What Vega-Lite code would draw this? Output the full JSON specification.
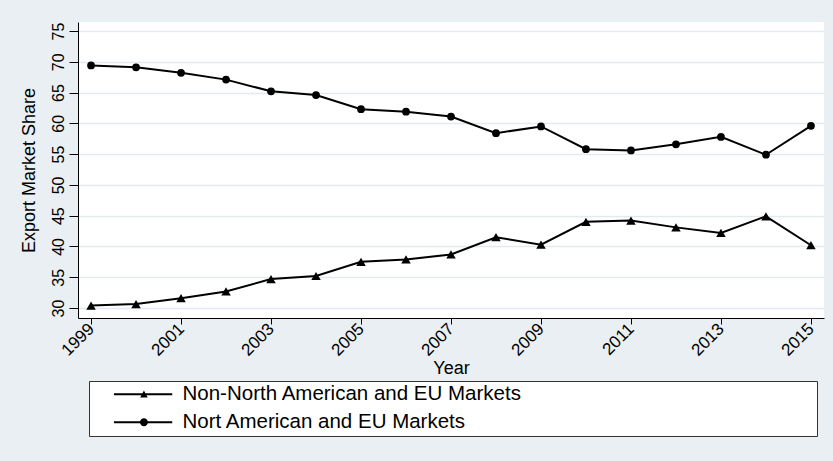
{
  "$schema": "https://vega.github.io/schema/vega-lite/v6.json",
  "width": 746,
  "height": 296,
  "autosize": {"type": "none"},
  "padding": {"left": 78, "top": 22, "right": 9, "bottom": 143},
  "background": "#e9eff2",
  "config": {
    "view": {"fill": "white", "stroke": null},
    "font": "Liberation Sans"
  },
  "data": {
    "values": [
      {"Year": 1999, "Share": 69.4, "Series": "Nort American and EU Markets"},
      {"Year": 2000, "Share": 69.1, "Series": "Nort American and EU Markets"},
      {"Year": 2001, "Share": 68.2, "Series": "Nort American and EU Markets"},
      {"Year": 2002, "Share": 67.1, "Series": "Nort American and EU Markets"},
      {"Year": 2003, "Share": 65.2, "Series": "Nort American and EU Markets"},
      {"Year": 2004, "Share": 64.6, "Series": "Nort American and EU Markets"},
      {"Year": 2005, "Share": 62.3, "Series": "Nort American and EU Markets"},
      {"Year": 2006, "Share": 61.9, "Series": "Nort American and EU Markets"},
      {"Year": 2007, "Share": 61.1, "Series": "Nort American and EU Markets"},
      {"Year": 2008, "Share": 58.4, "Series": "Nort American and EU Markets"},
      {"Year": 2009, "Share": 59.5, "Series": "Nort American and EU Markets"},
      {"Year": 2010, "Share": 55.8, "Series": "Nort American and EU Markets"},
      {"Year": 2011, "Share": 55.6, "Series": "Nort American and EU Markets"},
      {"Year": 2012, "Share": 56.6, "Series": "Nort American and EU Markets"},
      {"Year": 2013, "Share": 57.8, "Series": "Nort American and EU Markets"},
      {"Year": 2014, "Share": 54.9, "Series": "Nort American and EU Markets"},
      {"Year": 2015, "Share": 59.6, "Series": "Nort American and EU Markets"},
      {"Year": 1999, "Share": 30.4, "Series": "Non-North American and EU Markets"},
      {"Year": 2000, "Share": 30.65, "Series": "Non-North American and EU Markets"},
      {"Year": 2001, "Share": 31.6, "Series": "Non-North American and EU Markets"},
      {"Year": 2002, "Share": 32.7, "Series": "Non-North American and EU Markets"},
      {"Year": 2003, "Share": 34.7, "Series": "Non-North American and EU Markets"},
      {"Year": 2004, "Share": 35.2, "Series": "Non-North American and EU Markets"},
      {"Year": 2005, "Share": 37.5, "Series": "Non-North American and EU Markets"},
      {"Year": 2006, "Share": 37.9, "Series": "Non-North American and EU Markets"},
      {"Year": 2007, "Share": 38.7, "Series": "Non-North American and EU Markets"},
      {"Year": 2008, "Share": 41.5, "Series": "Non-North American and EU Markets"},
      {"Year": 2009, "Share": 40.3, "Series": "Non-North American and EU Markets"},
      {"Year": 2010, "Share": 44.0, "Series": "Non-North American and EU Markets"},
      {"Year": 2011, "Share": 44.2, "Series": "Non-North American and EU Markets"},
      {"Year": 2012, "Share": 43.1, "Series": "Non-North American and EU Markets"},
      {"Year": 2013, "Share": 42.2, "Series": "Non-North American and EU Markets"},
      {"Year": 2014, "Share": 44.9, "Series": "Non-North American and EU Markets"},
      {"Year": 2015, "Share": 40.2, "Series": "Non-North American and EU Markets"}
    ]
  },
  "encoding": {
    "x": {
      "field": "Year",
      "type": "quantitative",
      "scale": {"domain": [1998.71, 2015.29], "nice": false, "zero": false},
      "axis": {
        "title": "Year",
        "values": [1999, 2001, 2003, 2005, 2007, 2009, 2011, 2013, 2015],
        "format": "d",
        "grid": false,
        "labelAngle": -45,
        "labelAlign": "right",
        "labelBaseline": "middle",
        "labelFontSize": 17,
        "labelColor": "black",
        "labelPadding": 2,
        "tickSize": 6,
        "tickColor": "black",
        "domainColor": "black",
        "titleFontSize": 18,
        "titleFontWeight": "normal",
        "titleColor": "black",
        "titlePadding": 1,
        "labelFlush": false,
        "labelOverlap": false
      }
    },
    "y": {
      "field": "Share",
      "type": "quantitative",
      "scale": {"domain": [28.38, 76.46], "nice": false, "zero": false},
      "axis": {
        "title": "Export Market Share",
        "values": [30, 35, 40, 45, 50, 55, 60, 65, 70, 75],
        "grid": true,
        "gridColor": "#e3eaee",
        "gridWidth": 1.5,
        "labelAngle": -90,
        "labelAlign": "center",
        "labelBaseline": "bottom",
        "labelFontSize": 16,
        "labelColor": "black",
        "labelPadding": 3,
        "tickSize": 9,
        "tickColor": "black",
        "domainColor": "black",
        "titleFontSize": 18,
        "titleFontWeight": "normal",
        "titleColor": "black",
        "titlePadding": 12,
        "labelFlush": false,
        "labelOverlap": false
      }
    }
  },
  "layer": [
    {
      "mark": {"type": "line", "color": "black", "strokeWidth": 2},
      "encoding": {"detail": {"field": "Series"}}
    },
    {
      "mark": {"type": "point", "filled": true, "color": "black", "opacity": 1},
      "encoding": {
        "shape": {"condition": {"test": "datum.Series === 'Non-North American and EU Markets'", "value": "triangle-up"}, "value": "circle"},
        "size": {"condition": {"test": "datum.Series === 'Nort American and EU Markets'", "value": 60}, "value": 90}
      }
    },
    {
      "mark": {"type": "point", "filled": true, "color": "black", "opacity": 0},
      "encoding": {
        "shape": {
          "field": "Series",
          "type": "nominal",
          "scale": {
            "domain": ["Non-North American and EU Markets", "Nort American and EU Markets"],
            "range": [
              "M1.46,-0.12L8.75,-0.12L8.75,0.12L1.46,0.12ZM5.21,-0.47L5.68,0.4L4.74,0.4Z",
              "M1.46,-0.12L8.75,-0.12L8.75,0.12L1.46,0.12ZM4.71,0A0.5,0.5,0,1,1,5.71,0A0.5,0.5,0,1,1,4.71,0Z"
            ]
          },
          "legend": {
            "orient": "none",
            "legendX": 11,
            "legendY": 359,
            "title": "\u200b\u00a0\u00a0\u00a0\u00a0\u00a0\u00a0\u00a0\u00a0\u00a0\u00a0\u00a0\u00a0\u00a0\u00a0\u00a0\u00a0\u00a0\u00a0\u00a0\u00a0\u00a0\u00a0\u00a0\u00a0\u00a0\u00a0\u00a0\u00a0\u00a0\u00a0\u00a0\u00a0\u00a0\u00a0\u00a0\u00a0\u00a0\u00a0\u00a0\u00a0\u00a0\u00a0\u00a0\u00a0\u00a0\u00a0\u00a0\u00a0\u00a0\u00a0\u00a0\u00a0\u200b",
            "titleOrient": "right",
            "titleFontSize": 20,
            "titlePadding": 3,
            "titleLimit": 1000,
            "labelFontSize": 20.5,
            "labelColor": "black",
            "labelOffset": 70,
            "labelLimit": 1000,
            "symbolSize": 256,
            "symbolFillColor": "black",
            "symbolStrokeColor": "black",
            "symbolStrokeWidth": 1,
            "symbolOpacity": 1,
            "rowPadding": 7,
            "padding": 3,
            "strokeColor": "#333333",
            "fillColor": "white"
          }
        }
      }
    }
  ]
}
